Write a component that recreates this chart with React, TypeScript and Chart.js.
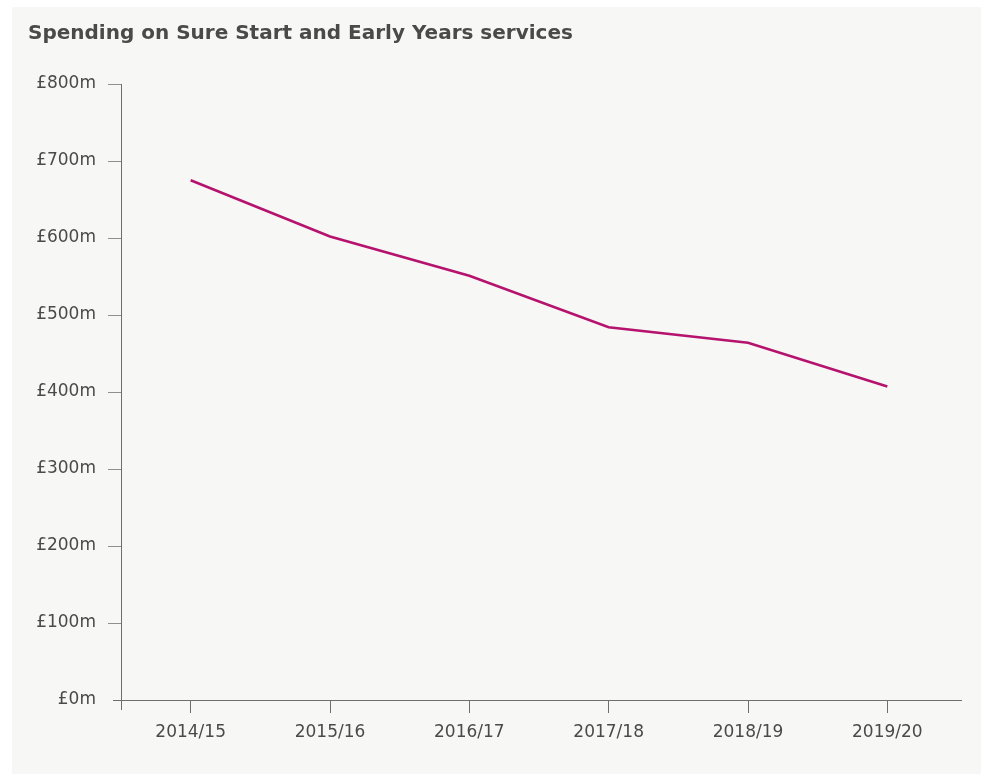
import React, { useEffect, useRef } from "react";
import { Chart, registerables } from "chart.js";

Chart.register(...registerables);

const TITLE = "Spending on Sure Start and Early Years services";
const categories = ["2014/15", "2015/16", "2016/17", "2017/18", "2018/19", "2019/20"];
const spending = [675, 602, 551, 484, 464, 407];
const yMin = 0;
const yMax = 800;
const yStep = 100;

const FONT = "'DejaVu Sans', sans-serif";
const TEXT = "#4a4a4a";

const extrasPlugin = {
  id: "extras",
  afterDraw(chart: any) {
    const ctx = chart.ctx;
    const area = chart.chartArea;
    ctx.save();
    // title
    ctx.fillStyle = "#4a4a4a";
    ctx.font = `bold 20px ${FONT}`;
    ctx.textBaseline = "alphabetic";
    ctx.textAlign = "left";
    ctx.fillText(TITLE, 16, 32);
    // axis extensions
    ctx.strokeStyle = "#6e6e6e";
    ctx.lineWidth = 1;
    ctx.beginPath();
    ctx.moveTo(area.left - 8, Math.round(area.bottom) + 0.5);
    ctx.lineTo(area.right + 5, Math.round(area.bottom) + 0.5);
    ctx.moveTo(Math.round(area.left) + 0.5, area.top);
    ctx.lineTo(Math.round(area.left) + 0.5, area.bottom + 10);
    ctx.stroke();
    ctx.restore();
  },
};

export default function App() {
  const ref = useRef<HTMLCanvasElement>(null);
  useEffect(() => {
    if (!ref.current) return;
    const chart = new Chart(ref.current, {
      type: "line",
      data: {
        labels: categories,
        datasets: [
          {
            data: spending,
            borderColor: "#b5136d",
            borderWidth: 2.6,
            pointRadius: 0,
            tension: 0,
            fill: false,
          },
        ],
      },
      options: {
        animation: false,
        responsive: false,
        devicePixelRatio: 1,
        layout: { padding: { top: 77, right: 24, left: 0, bottom: 0 } },
        plugins: {
          legend: { display: false },
          title: { display: false },
          tooltip: { enabled: false },
        },
        scales: {
          x: {
            offset: true,
            afterFit(scale: any) {
              scale.height = 74;
            },
            grid: {
              offset: false,
              drawOnChartArea: false,
              drawTicks: true,
              tickLength: 13,
              color: "#6e6e6e",
            },
            border: { display: true, color: "#6e6e6e" },
            ticks: {
              color: TEXT,
              font: { family: FONT, size: 17 },
              padding: 9,
              maxRotation: 0,
            },
          },
          y: {
            min: yMin,
            max: yMax,
            afterFit(scale: any) {
              scale.width = 109;
            },
            grid: {
              drawOnChartArea: false,
              drawTicks: true,
              tickLength: 13,
              color: (c: any) => (c.tick && c.tick.value === 0 ? "rgba(0,0,0,0)" : "#8f8f8f"),
            },
            border: { display: true, color: "#6e6e6e" },
            ticks: {
              stepSize: yStep,
              color: TEXT,
              font: { family: FONT, size: 17 },
              padding: 12,
              callback: (v: any) => `£${v}m`,
            },
          },
        },
      },
      plugins: [extrasPlugin],
    });
    return () => chart.destroy();
  }, []);

  return (
    <div style={{ position: "fixed", left: 0, top: 0, width: 981, height: 774, background: "#ffffff" }}>
      <div style={{ position: "absolute", left: 12, top: 7, width: 969, height: 767, background: "#f7f7f5" }}>
        <canvas ref={ref} width={969} height={767} style={{ display: "block" }} />
      </div>
    </div>
  );
}
